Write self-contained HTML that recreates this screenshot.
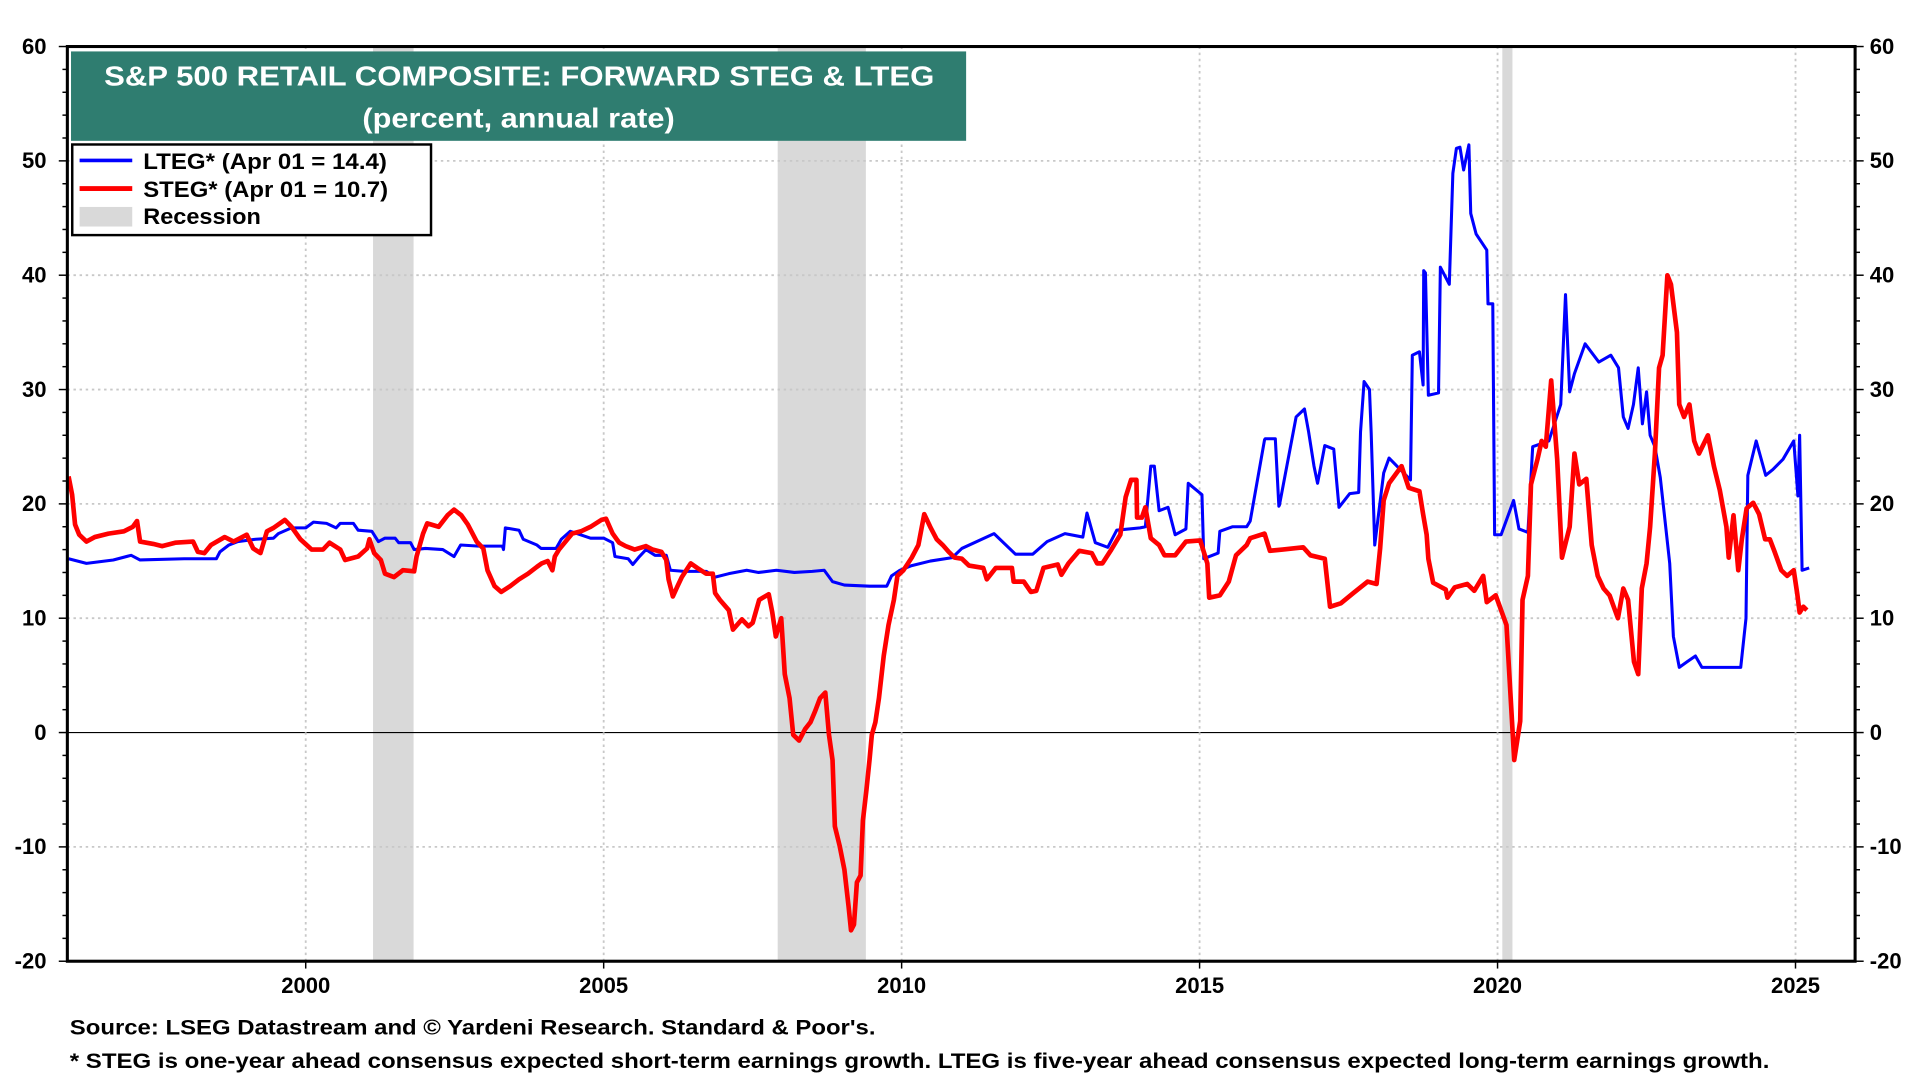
<!DOCTYPE html>
<html><head><meta charset="utf-8"><title>S&amp;P 500 Retail Composite: Forward STEG &amp; LTEG</title>
<style>
html,body{margin:0;padding:0;background:#fff;}
svg{display:block;font-family:"Liberation Sans",Arial,sans-serif;font-weight:bold;}
</style></head>
<body>
<svg id="chart" width="1920" height="1080" viewBox="0 0 1568 882" preserveAspectRatio="none" xmlns="http://www.w3.org/2000/svg">
  <rect x="0" y="0" width="1568" height="882" fill="#fff"/>
  <g id="recessions"></g>
  <g id="grid"></g>
  <g id="series"></g>
  <rect x="55" y="38" width="1460" height="747" fill="none" stroke="#000" stroke-width="2.5"/>
  <g id="axes"></g>
  <g>
    <rect x="58" y="42" width="731" height="73" fill="#2f7d70"/>
    <text x="85" y="70" fill="#fff" font-size="23" textLength="678" lengthAdjust="spacingAndGlyphs">S&amp;P 500 RETAIL COMPOSITE: FORWARD STEG &amp; LTEG</text>
    <text x="296" y="104" fill="#fff" font-size="23" textLength="255" lengthAdjust="spacingAndGlyphs">(percent, annual rate)</text>
  </g>
  <g>
    <rect x="59" y="118" width="293" height="74" fill="#fff" stroke="#000" stroke-width="2"/>
    <line x1="65" y1="131" x2="108" y2="131" stroke="#0000ff" stroke-width="3"/>
    <text x="117" y="138" font-size="18" textLength="199" lengthAdjust="spacingAndGlyphs">LTEG* (Apr 01 = 14.4)</text>
    <line x1="65" y1="154" x2="108" y2="154" stroke="#ff0000" stroke-width="4"/>
    <text x="117" y="161" font-size="18" textLength="200" lengthAdjust="spacingAndGlyphs">STEG* (Apr 01 = 10.7)</text>
    <rect x="65" y="169" width="43" height="16" fill="#d9d9d9"/>
    <text x="117" y="183" font-size="18" textLength="96" lengthAdjust="spacingAndGlyphs">Recession</text>
  </g>
  <text x="57" y="845" font-size="17" textLength="658" lengthAdjust="spacingAndGlyphs">Source: LSEG Datastream and © Yardeni Research. Standard &amp; Poor's.</text>
  <text x="57" y="872" font-size="17" textLength="1388" lengthAdjust="spacingAndGlyphs">* STEG is one-year ahead consensus expected short-term earnings growth. LTEG is five-year ahead consensus expected long-term earnings growth.</text>
</svg>
<script>
const yTicks = [60, 50, 40, 30, 20, 10, 0, -10, -20];
const xTickYears = [2000, 2005, 2010, 2015, 2020, 2025];
const recessionStarts = [2001.13, 2007.92, 2020.08];
const recessionEnds = [2001.81, 2009.4, 2020.25];

const ltegYears = [1996.02,1996.32,1996.77,1997.07,1997.22,1997.96,1998.5,1998.56,1998.71,1998.86,1999.16,1999.46,1999.54,1999.76,2000.0,2000.13,2000.35,2000.51,2000.58,2000.8,2000.88,2001.11,2001.22,2001.33,2001.5,2001.56,2001.76,2001.82,2002.01,2002.3,2002.49,2002.6,2002.9,2003.3,2003.32,2003.35,2003.58,2003.65,2003.88,2003.95,2004.2,2004.29,2004.44,2004.78,2005.0,2005.15,2005.19,2005.41,2005.49,2005.6,2005.71,2005.86,2006.05,2006.12,2006.35,2006.72,2006.87,2007.1,2007.4,2007.6,2007.9,2008.2,2008.5,2008.7,2008.84,2009.04,2009.46,2009.75,2009.83,2009.97,2010.17,2010.48,2010.85,2011.01,2011.55,2011.91,2012.2,2012.44,2012.74,2013.04,2013.11,2013.25,2013.46,2013.61,2014.0,2014.09,2014.18,2014.24,2014.32,2014.47,2014.59,2014.77,2014.81,2015.04,2015.07,2015.31,2015.34,2015.55,2015.79,2015.85,2016.09,2016.1,2016.27,2016.33,2016.34,2016.62,2016.76,2016.83,2016.92,2016.98,2017.1,2017.25,2017.34,2017.52,2017.67,2017.7,2017.76,2017.85,2017.88,2017.94,2018.09,2018.18,2018.54,2018.57,2018.69,2018.75,2018.76,2018.79,2018.84,2019.01,2019.04,2019.19,2019.25,2019.31,2019.37,2019.43,2019.52,2019.55,2019.64,2019.82,2019.84,2019.92,2019.95,2020.06,2020.27,2020.36,2020.51,2020.59,2020.86,2021.06,2021.14,2021.21,2021.29,2021.47,2021.7,2021.9,2022.03,2022.11,2022.19,2022.28,2022.36,2022.43,2022.5,2022.56,2022.64,2022.73,2022.89,2022.95,2023.05,2023.18,2023.32,2023.43,2023.84,2024.08,2024.17,2024.2,2024.34,2024.5,2024.62,2024.79,2024.97,2025.04,2025.07,2025.11,2025.23];
const ltegValues = [15.2,14.8,15.1,15.5,15.1,15.2,15.2,15.8,16.4,16.7,16.9,17.0,17.4,17.9,17.9,18.4,18.3,17.9,18.3,18.3,17.7,17.6,16.7,17.0,17.0,16.6,16.6,16.0,16.1,16.0,15.4,16.4,16.3,16.3,16.0,17.9,17.7,16.9,16.4,16.1,16.1,16.9,17.6,17.0,17.0,16.6,15.4,15.2,14.7,15.4,16.0,15.5,15.5,14.2,14.1,14.1,13.6,13.9,14.2,14.0,14.2,14.0,14.1,14.2,13.2,12.9,12.8,12.8,13.7,14.2,14.6,15.0,15.3,16.1,17.4,15.6,15.6,16.7,17.4,17.1,19.2,16.6,16.2,17.7,17.9,18.0,23.3,23.3,19.4,19.7,17.3,17.8,21.8,20.8,15.2,15.7,17.6,18.0,18.0,18.5,25.6,25.7,25.7,19.8,19.9,27.6,28.3,26.3,23.3,21.8,25.1,24.8,19.7,20.9,21.0,26.3,30.7,30.0,26.2,16.4,22.7,24.0,22.1,33.0,33.3,30.4,40.4,40.2,29.5,29.7,40.7,39.2,48.9,51.1,51.2,49.2,51.4,45.4,43.6,42.2,37.5,37.5,17.3,17.3,20.3,17.8,17.5,25.0,25.5,28.7,38.3,29.8,31.4,34.0,32.4,33.0,31.9,27.6,26.6,28.7,31.9,27.0,29.8,26.0,25.0,22.3,14.8,8.4,5.7,6.2,6.7,5.7,5.7,5.7,10.0,22.5,25.5,22.5,23.0,23.9,25.5,20.7,26.0,14.2,14.4];

const stegYears = [1996.02,1996.08,1996.13,1996.2,1996.32,1996.46,1996.69,1996.95,1997.1,1997.17,1997.22,1997.44,1997.59,1997.81,1998.11,1998.19,1998.3,1998.41,1998.64,1998.79,1999.01,1999.12,1999.24,1999.35,1999.46,1999.65,1999.76,1999.91,2000.1,2000.29,2000.4,2000.58,2000.66,2000.88,2001.03,2001.07,2001.15,2001.26,2001.33,2001.48,2001.63,2001.82,2001.86,2001.97,2002.04,2002.23,2002.38,2002.49,2002.61,2002.72,2002.87,2002.98,2003.05,2003.17,2003.28,2003.43,2003.58,2003.73,2003.88,2003.96,2004.06,2004.14,2004.18,2004.25,2004.47,2004.62,2004.78,2004.96,2005.04,2005.15,2005.26,2005.37,2005.52,2005.71,2005.82,2005.97,2006.05,2006.09,2006.16,2006.24,2006.31,2006.46,2006.57,2006.72,2006.83,2006.87,2006.95,2007.1,2007.17,2007.32,2007.43,2007.5,2007.61,2007.77,2007.83,2007.89,2007.98,2008.04,2008.12,2008.18,2008.28,2008.38,2008.47,2008.55,2008.63,2008.72,2008.78,2008.84,2008.88,2008.96,2009.04,2009.11,2009.15,2009.2,2009.25,2009.31,2009.35,2009.41,2009.46,2009.5,2009.56,2009.62,2009.7,2009.78,2009.87,2009.93,2010.03,2010.17,2010.28,2010.38,2010.48,2010.59,2010.69,2010.79,2010.89,2011.01,2011.13,2011.37,2011.43,2011.58,2011.85,2011.88,2012.05,2012.17,2012.26,2012.38,2012.62,2012.68,2012.8,2012.98,2013.19,2013.28,2013.37,2013.52,2013.67,2013.76,2013.85,2013.94,2013.95,2014.03,2014.09,2014.18,2014.32,2014.41,2014.59,2014.77,2015.01,2015.13,2015.16,2015.34,2015.49,2015.61,2015.79,2015.85,2016.09,2016.18,2016.39,2016.74,2016.86,2017.1,2017.19,2017.37,2017.58,2017.82,2017.97,2018.03,2018.09,2018.18,2018.39,2018.51,2018.69,2018.75,2018.81,2018.84,2018.92,2019.13,2019.16,2019.28,2019.49,2019.61,2019.76,2019.82,2019.97,2020.15,2020.21,2020.28,2020.38,2020.42,2020.51,2020.56,2020.67,2020.74,2020.81,2020.9,2021.0,2021.08,2021.21,2021.29,2021.37,2021.49,2021.58,2021.68,2021.78,2021.88,2022.02,2022.11,2022.19,2022.29,2022.36,2022.42,2022.5,2022.56,2022.64,2022.71,2022.77,2022.85,2022.91,2023.01,2023.05,2023.13,2023.22,2023.3,2023.38,2023.53,2023.63,2023.73,2023.84,2023.88,2023.96,2024.04,2024.1,2024.18,2024.29,2024.39,2024.49,2024.57,2024.65,2024.76,2024.86,2024.97,2025.03,2025.07,2025.13,2025.19,2025.23];
const stegValues = [22.4,20.8,18.2,17.3,16.7,17.1,17.4,17.6,18.0,18.5,16.7,16.5,16.3,16.6,16.7,15.8,15.7,16.4,17.1,16.7,17.3,16.1,15.7,17.6,17.9,18.6,18.0,16.9,16.0,16.0,16.6,16.0,15.1,15.4,16.1,16.9,15.7,15.1,13.9,13.6,14.2,14.1,15.4,17.4,18.3,18.0,19.0,19.5,19.0,18.2,16.7,16.1,14.2,12.8,12.3,12.8,13.4,13.9,14.5,14.8,15.0,14.2,15.4,16.0,17.4,17.6,18.0,18.6,18.7,17.4,16.6,16.3,16.0,16.3,16.0,15.8,15.1,13.4,11.9,12.8,13.6,14.8,14.4,13.9,13.9,12.2,11.6,10.7,9.0,9.9,9.3,9.6,11.6,12.1,10.5,8.4,10.0,5.1,3.0,-0.2,-0.7,0.3,0.9,1.9,3.0,3.5,-0.2,-2.4,-8.2,-9.9,-12.0,-15.2,-17.3,-16.8,-13.1,-12.5,-7.7,-5.0,-2.4,-0.2,0.9,3.0,6.7,9.4,11.6,13.7,14.2,15.3,16.4,19.1,18.0,16.9,16.4,15.8,15.3,15.2,14.6,14.4,13.4,14.4,14.4,13.2,13.2,12.3,12.4,14.4,14.7,13.8,14.8,15.9,15.7,14.8,14.8,16.0,17.3,20.6,22.1,22.1,18.8,18.8,19.7,17.0,16.4,15.5,15.5,16.7,16.8,14.8,11.8,12.0,13.2,15.5,16.4,17.0,17.4,15.9,16.0,16.2,15.5,15.2,11.0,11.3,12.2,13.2,13.0,16.1,20.3,21.8,23.3,21.4,21.1,19.1,17.3,15.2,13.1,12.5,11.8,12.7,13.0,12.4,13.7,11.4,12.0,9.4,4.0,-2.4,1.0,11.6,13.7,21.7,23.9,25.5,25.0,30.8,23.9,15.3,18.0,24.4,21.7,22.2,16.4,13.7,12.6,12.0,10.0,12.6,11.6,6.2,5.1,12.6,14.8,18.0,24.4,31.9,33.0,40.0,39.2,35.0,28.7,27.6,28.7,25.5,24.4,26.0,23.3,21.2,18.0,15.3,19.0,14.2,16.9,19.6,20.1,19.1,16.9,16.9,15.8,14.2,13.7,14.2,12.1,10.5,11.0,10.7];

const NS = 'http://www.w3.org/2000/svg';
const PL = 55, PR = 1515, PT = 38, PB = 785;
const X0 = 1996.0, X1 = 2026.0, Y0 = -20, Y1 = 60;
function xScale(t){ return PL + (t - X0) / (X1 - X0) * (PR - PL); }
function yScale(v){ return PB - (v - Y0) / (Y1 - Y0) * (PB - PT); }
function mk(tag, attrs, parent){
  const e = document.createElementNS(NS, tag);
  for (const k in attrs) e.setAttribute(k, attrs[k]);
  parent.appendChild(e);
  return e;
}

const rec = document.getElementById('recessions');
for (let i = 0; i < recessionStarts.length; i++) {
  const r = mk('rect', {x: xScale(recessionStarts[i]), y: PT, width: xScale(recessionEnds[i]) - xScale(recessionStarts[i]), height: PB - PT, fill: '#d9d9d9'}, rec);
  
  
}

const grid = document.getElementById('grid');
const axes = document.getElementById('axes');
yTicks.forEach(v => {
  const y = yScale(v);
  if (v !== Y0 && v !== Y1) {
    const g = mk('line', {x1: PL, x2: PR, y1: y, y2: y, stroke: v === 0 ? '#000' : '#c8c8c8', 'stroke-width': v === 0 ? 1 : 1.5, 'stroke-dasharray': v === 0 ? 'none' : '2,3'}, grid);
    
    
  }
  const tl = mk('text', {x: 38, y: y + 6, 'font-size': 18, 'text-anchor': 'end'}, axes);
  tl.textContent = String(v);
  
  
  const tr = mk('text', {x: 1527, y: y + 6, 'font-size': 18, 'text-anchor': 'start'}, axes);
  tr.textContent = String(v);
  
  
});
for (let v = Y0; v <= Y1; v += 2) {
  const y = yScale(v);
  const len = (v % 10 === 0) ? 7 : 4;
  const a = mk('line', {x1: PL - len, x2: PL, y1: y, y2: y, stroke: '#000', 'stroke-width': 1.2}, axes);
  
  
  const b = mk('line', {x1: PR, x2: PR + len, y1: y, y2: y, stroke: '#000', 'stroke-width': 1.2}, axes);
  
  
}
xTickYears.forEach(t => {
  const x = xScale(t);
  const g = mk('line', {x1: x, x2: x, y1: PT, y2: PB, stroke: '#c8c8c8', 'stroke-width': 1.5, 'stroke-dasharray': '2,3'}, grid);
  
  
  const tk = mk('line', {x1: x, x2: x, y1: PB, y2: PB + 6, stroke: '#000', 'stroke-width': 1.2}, axes);
  
  
  const lb = mk('text', {x: x, y: 811, 'font-size': 18, 'text-anchor': 'middle'}, axes);
  lb.textContent = String(t);
  
  
});

const ser = document.getElementById('series');
function pts(xs, vs){ return xs.map((t, i) => xScale(t).toFixed(1) + ',' + yScale(vs[i]).toFixed(1)).join(' '); }
const lteg = mk('polyline', {points: pts(ltegYears, ltegValues), fill: 'none', stroke: '#0000ff', 'stroke-width': 2.5, 'stroke-linejoin': 'round'}, ser);


const steg = mk('polyline', {points: pts(stegYears, stegValues), fill: 'none', stroke: '#ff0000', 'stroke-width': 3.8, 'stroke-linejoin': 'round'}, ser);


</script>
</body></html>
